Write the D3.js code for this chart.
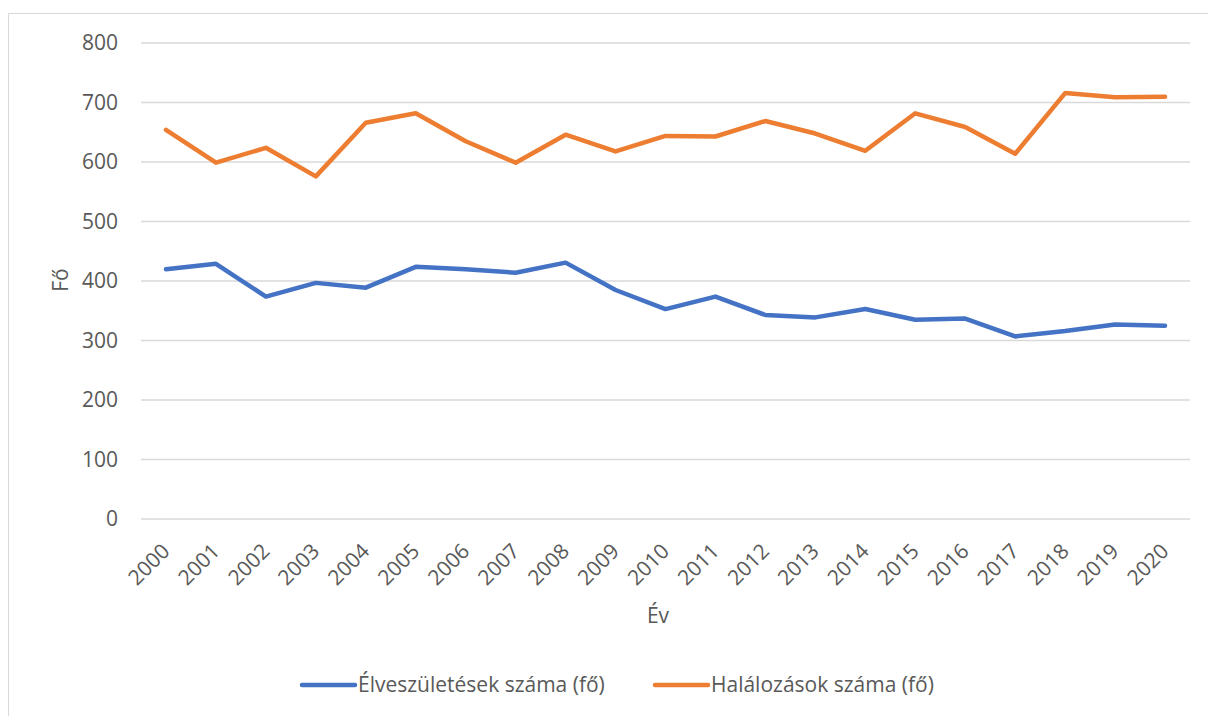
<!DOCTYPE html>
<html><head><meta charset="utf-8">
<script src="https://cdn.jsdelivr.net/npm/d3@7"></script>
<style>
html,body{margin:0;padding:0;background:#fff;}
svg{display:block;}
text{font-family:"Open Sans",sans-serif;fill:#595959;}
</style></head>
<body><svg id="c" width="1208" height="716"></svg>
<script>
const years = ["2000","2001","2002","2003","2004","2005","2006","2007","2008","2009","2010","2011","2012","2013","2014","2015","2016","2017","2018","2019","2020"];
const births = [419,428,373,396,388,423,419,413,430,384,352,373,342,338,352,334,336,306,315,326,324];
const deaths = [653,598,623,575,665,681,634,598,645,617,643,642,668,647,618,681,658,613,715,708,709];
const yTicks = [0,100,200,300,400,500,600,700,800];
const seriesNames = ["Élveszületések száma (fő)","Halálozások száma (fő)"];
const colors = ["#4472C4","#ED7D31"];
const xTitle = "Év", yTitle = "Fő";

const FS = "21px";
const svg = d3.select("#c");
svg.append("rect").attr("x",8.5).attr("y",13.5).attr("width",1230).attr("height",730)
  .attr("fill","none").attr("stroke","#d9d9d9").attr("stroke-width",1);

const L=141, R=1190, T=42.5, B=518.5;
const x = d3.scaleBand().domain(years).range([L,R]);
const y = d3.scaleLinear().domain([0,800]).range([B,T]);

const yAxis = svg.append("g").attr("transform",`translate(${L},0)`)
  .call(d3.axisLeft(y).tickValues(yTicks).tickSize(-(R-L)).tickPadding(23));
yAxis.select(".domain").remove();
yAxis.selectAll("line").attr("stroke","#d9d9d9").attr("stroke-width",1.3);
yAxis.selectAll("text").style("font-size",FS).style("fill","#595959").attr("dy","0.35em");

const xAxis = svg.append("g").attr("transform",`translate(0,${B})`)
  .call(d3.axisBottom(x).tickSize(0));
xAxis.select(".domain").remove();
xAxis.selectAll("text").style("font-size",FS).style("fill","#595959")
  .attr("text-anchor","end").attr("dy",null).attr("y",0)
  .attr("transform","translate(5,34) rotate(-45)");

const line = d3.line().x((d,i)=>x(years[i])+x.bandwidth()/2).y(d=>y(d));
[births,deaths].forEach((s,k)=>{
  svg.append("path").datum(s).attr("d",line).attr("fill","none")
    .attr("stroke",colors[k]).attr("stroke-width",4.5)
    .attr("stroke-linejoin","round").attr("stroke-linecap","round");
});

svg.append("text").attr("x",658).attr("y",623).attr("text-anchor","middle")
  .style("font-size",FS).text(xTitle);
svg.append("text").attr("transform","translate(68,280) rotate(-90)").attr("text-anchor","middle")
  .style("font-size",FS).text(yTitle);

const legX=[302,655];
seriesNames.forEach((n,k)=>{
  svg.append("line").attr("x1",legX[k]).attr("x2",legX[k]+53).attr("y1",685).attr("y2",685)
    .attr("stroke",colors[k]).attr("stroke-width",4.5).attr("stroke-linecap","round");
  svg.append("text").attr("x",legX[k]+56).attr("y",692).style("font-size",FS).text(n);
});
</script></body></html>
